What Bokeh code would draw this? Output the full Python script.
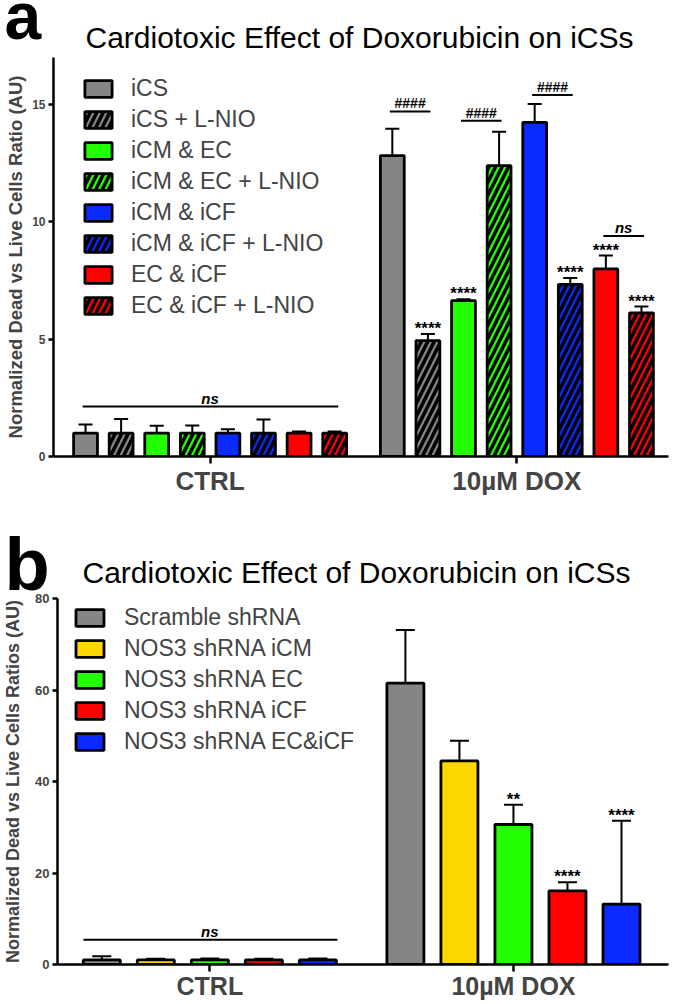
from bokeh.plotting import figure
from bokeh.models import (ColumnDataSource, Label, Legend, LegendItem, FixedTicker,
                          Whisker, TeeHead, Range1d)
from bokeh.layouts import column
from bokeh.embed import file_html
from bokeh.resources import INLINE
from bokeh.core.properties import value

FONT = "Liberation Sans"

# ---------------- panel a data ----------------
a_title = "Cardiotoxic Effect of Doxorubicin on iCSs"
a_ylabel = "Normalized Dead vs Live Cells Ratio (AU)"
a_groups = ["CTRL", "10µM DOX"]
a_series = ["iCS", "iCS + L-NIO", "iCM & EC", "iCM & EC + L-NIO",
            "iCM & iCF", "iCM & iCF + L-NIO", "EC & iCF", "EC & iCF + L-NIO"]
a_colors = ["#858585", "#858585", "#22ff00", "#22ff00",
            "#0a2aff", "#0a2aff", "#ff0000", "#ff0000"]
a_hatch = ["blank", "right_diagonal_line"] * 4
a_ctrl = [1.0, 1.0, 1.0, 1.0, 1.0, 1.0, 1.0, 1.0]
a_ctrl_err = [0.36, 0.60, 0.31, 0.32, 0.16, 0.58, 0.06, 0.06]
a_dox = [12.82, 4.94, 6.64, 12.39, 14.24, 7.33, 7.99, 6.12]
a_dox_err = [1.14, 0.28, 0.06, 1.45, 0.78, 0.28, 0.57, 0.27]
a_dox_sig = ["", "****", "****", "", "", "****", "****", "****"]
a_yticks = [0, 5, 10, 15]
a_ymax = 17
a_pair_left = [0, 2, 4, 6]
a_pair_text = ["####", "####", "####", "ns"]
a_pair_y = [14.7, 14.3, 15.4, 9.4]
a_ctrl_ns_y = 2.13

# ---------------- panel b data ----------------
b_title = "Cardiotoxic Effect of Doxorubicin on iCSs"
b_ylabel = "Normalized Dead vs Live Cells Ratios (AU)"
b_groups = ["CTRL", "10µM DOX"]
b_series = ["Scramble shRNA", "NOS3 shRNA iCM", "NOS3 shRNA EC",
            "NOS3 shRNA iCF", "NOS3 shRNA EC&iCF"]
b_colors = ["#858585", "#ffd700", "#22ff00", "#ff0000", "#0a2aff"]
b_hatch = ["blank"] * 5
b_ctrl = [1.0, 1.0, 1.0, 1.0, 1.0]
b_ctrl_err = [0.8, 0.25, 0.3, 0.25, 0.3]
b_dox = [61.5, 44.5, 30.6, 16.1, 13.2]
b_dox_err = [11.6, 4.4, 4.3, 1.9, 18.2]
b_dox_sig = ["", "", "**", "****", "****"]
b_yticks = [0, 20, 40, 60, 80]
b_ymax = 80
b_pair_left = []
b_pair_text = []
b_pair_y = []
b_ctrl_ns_y = 5.4

GROUP_GAP = 0.62  # extra slot space between the two groups
W = 675


def make_header(letter, title, H, letter_xy, title_xy, letter_size):
    h = figure(width=W, height=H, output_backend="svg", toolbar_location=None,
               x_range=Range1d(0, W), y_range=Range1d(0, H),
               x_axis_type=None, y_axis_type=None, min_border=0, frame_align=False)
    h.outline_line_color = None
    h.xgrid.visible = False
    h.ygrid.visible = False
    h.add_layout(Label(x=title_xy[0], y=title_xy[1], text=title, text_font=FONT,
                       text_font_size="30px", text_color="black",
                       text_baseline="middle"))
    h.add_layout(Label(x=letter_xy[0], y=letter_xy[1], text=letter, text_font=FONT,
                       text_font_style="bold", text_font_size=letter_size,
                       text_color="black", text_baseline="middle"))
    return h


def make_panel(ylabel, groups, series, colors, hatches,
               ctrl, ctrl_err, dox, dox_err, sig, yticks, ymax,
               pair_left, pair_text, pair_y, ns_y, L):
    n = len(series)
    xs, tops, errs, cols, hat, sg = [], [], [], [], [], []
    for g, (vals, ev, sgl) in enumerate([(ctrl, ctrl_err, [""] * n), (dox, dox_err, sig)]):
        for i in range(n):
            xs.append(g * (n + GROUP_GAP) + i)
            tops.append(vals[i])
            errs.append(ev[i])
            cols.append(colors[i])
            hat.append(hatches[i])
            sg.append(sgl[i])
    upper = [t + e for t, e in zip(tops, errs)]
    src = ColumnDataSource(dict(x=xs, top=tops, upper=upper, color=cols,
                                hatch=hat, sig=sg))

    x_lo, x_hi = L["xr"]
    p = figure(width=W, height=L["height"], output_backend="svg", toolbar_location=None,
               x_range=Range1d(x_lo, x_hi), y_range=Range1d(0, ymax),
               min_border_left=L["left"], min_border_right=L["right"],
               min_border_top=L["top"], min_border_bottom=L["bottom"],
               frame_align=False)
    p.outline_line_color = None
    p.xgrid.visible = False
    p.ygrid.visible = False
    p.background_fill_color = "white"
    p.border_fill_color = "white"

    bars = p.vbar(x="x", top="top", bottom=0, width=L["barw"], source=src,
                  fill_color="color", line_color="black", line_width=2.8,
                  hatch_pattern="hatch", hatch_color="black",
                  hatch_weight=3.6, hatch_scale=13)

    wh = Whisker(source=src, base="x", lower="top", upper="upper",
                 dimension="height", line_color="black", line_width=2,
                 upper_head=TeeHead(size=L["cap"], line_width=2, line_color="black"),
                 lower_head=None)
    p.add_layout(wh)

    p.text(x="x", y="upper", text="sig", source=src, text_font=value(FONT),
           text_font_style="bold", text_font_size="17px", text_align="center",
           text_baseline="bottom", y_offset=4, text_color="black")

    # CTRL ns bracket
    nsl, nsr = L["ns_pad"]
    p.segment(x0=[xs[0] - nsl], y0=[ns_y], x1=[xs[n - 1] + nsr], y1=[ns_y],
              line_color="black", line_width=2)
    p.text(x=[(xs[0] + xs[n - 1]) / 2], y=[ns_y], text=["ns"], text_font=value(FONT),
           text_font_style="bold italic", text_font_size="15px", text_align="center",
           text_baseline="bottom")

    # DOX pair brackets
    if pair_left:
        mids = [(xs[n + i] + xs[n + i + 1]) / 2 for i in pair_left]
        hl = L["pair_half"]
        p.segment(x0=[m - hl for m in mids], y0=pair_y, x1=[m + hl for m in mids],
                  y1=pair_y, line_color="black", line_width=2)
        hx = [m for m, t in zip(mids, pair_text) if t != "ns"]
        hy = [y for y, t in zip(pair_y, pair_text) if t != "ns"]
        ht = [t for t in pair_text if t != "ns"]
        p.text(x=hx, y=hy, text=ht, text_font=value(FONT),
               text_font_style="bold", text_font_size="14px", text_align="center",
               text_baseline="bottom")
        nx = [m for m, t in zip(mids, pair_text) if t == "ns"]
        ny = [y for y, t in zip(pair_y, pair_text) if t == "ns"]
        nt = [t for t in pair_text if t == "ns"]
        p.text(x=nx, y=ny, text=nt, text_font=value(FONT),
               text_font_style="bold italic", text_font_size="15px", text_align="center",
               text_baseline="bottom")

    # axes
    centers = [g * (n + GROUP_GAP) + (n - 1) / 2 for g in range(len(groups))]
    p.xaxis.ticker = FixedTicker(ticks=centers)
    p.xaxis.major_label_overrides = {c: gname for c, gname in zip(centers, groups)}
    p.xaxis.major_label_text_font = FONT
    p.xaxis.major_label_text_font_style = "bold"
    p.xaxis.major_label_text_font_size = L["xfont"]
    p.xaxis.major_label_standoff = L["xstand"]
    p.xaxis.major_tick_out = 7
    p.xaxis.major_tick_in = 0
    p.xaxis.major_tick_line_width = 2.5
    p.xaxis.minor_tick_line_color = None
    p.xaxis.axis_line_width = 2.5

    p.yaxis.ticker = FixedTicker(ticks=yticks)
    p.yaxis.major_label_text_font = FONT
    p.yaxis.major_label_text_font_style = "bold"
    p.yaxis.major_label_text_font_size = L["yfont"]
    p.yaxis.major_label_standoff = 3
    p.yaxis.major_tick_out = 5
    p.yaxis.major_tick_in = 0
    p.yaxis.major_tick_line_width = 2.5
    p.yaxis.minor_tick_line_color = None
    p.yaxis.axis_line_width = 2.5
    p.yaxis.axis_label = ylabel
    p.yaxis.axis_label_text_font = FONT
    p.yaxis.axis_label_text_font_style = "bold"
    p.yaxis.axis_label_text_font_size = L["ylfont"]
    p.yaxis.axis_label_standoff = L["ylstand"]

    # legend
    items = [LegendItem(label=series[i], renderers=[bars], index=i) for i in range(n)]
    lg = Legend(items=items, location=L["legloc"], glyph_width=L["gw"], glyph_height=21,
                label_height=21, label_standoff=L["lstand"], spacing=L["lspace"],
                padding=0, margin=0, border_line_color=None, background_fill_alpha=0,
                label_text_font=FONT, label_text_font_size="23px")
    p.add_layout(lg)
    return p


LA = dict(height=443, left=53, right=7, top=0, bottom=44, xr=(-0.90, 16.38), barw=0.67,
          cap=14, ns_pad=(0.08, 0.1), pair_half=0.57, xfont="26px", xstand=2,
          yfont="12px", ylfont="18.5px", ylstand=3, legloc=(28, 137), gw=34,
          lstand=16, lspace=4)
LB = dict(height=412, left=57, right=7, top=6, bottom=40, xr=(-0.82, 10.49), barw=0.685,
          cap=19, ns_pad=(0.34, 0.36), pair_half=0.5, xfont="25px", xstand=0,
          yfont="13px", ylfont="18px", ylstand=9, legloc=(15, 209), gw=35,
          lstand=17, lspace=4)

# header text positions are the vertical centres of the text boxes (pixels from header bottom)
ha = make_header("a", a_title, 57, (4, 42), (85, 20), "66px")
pa = make_panel(a_ylabel, a_groups, a_series, a_colors, a_hatch,
                a_ctrl, a_ctrl_err, a_dox, a_dox_err, a_dox_sig, a_yticks, a_ymax,
                a_pair_left, a_pair_text, a_pair_y, a_ctrl_ns_y, LA)
hb = make_header("b", b_title, 92, (4, 28), (82, 20), "74px")
pb = make_panel(b_ylabel, b_groups, b_series, b_colors, b_hatch,
                b_ctrl, b_ctrl_err, b_dox, b_dox_err, b_dox_sig, b_yticks, b_ymax,
                b_pair_left, b_pair_text, b_pair_y, b_ctrl_ns_y, LB)

layout = column(ha, pa, hb, pb, spacing=0)
open("out.html", "w").write(file_html(layout, INLINE))
